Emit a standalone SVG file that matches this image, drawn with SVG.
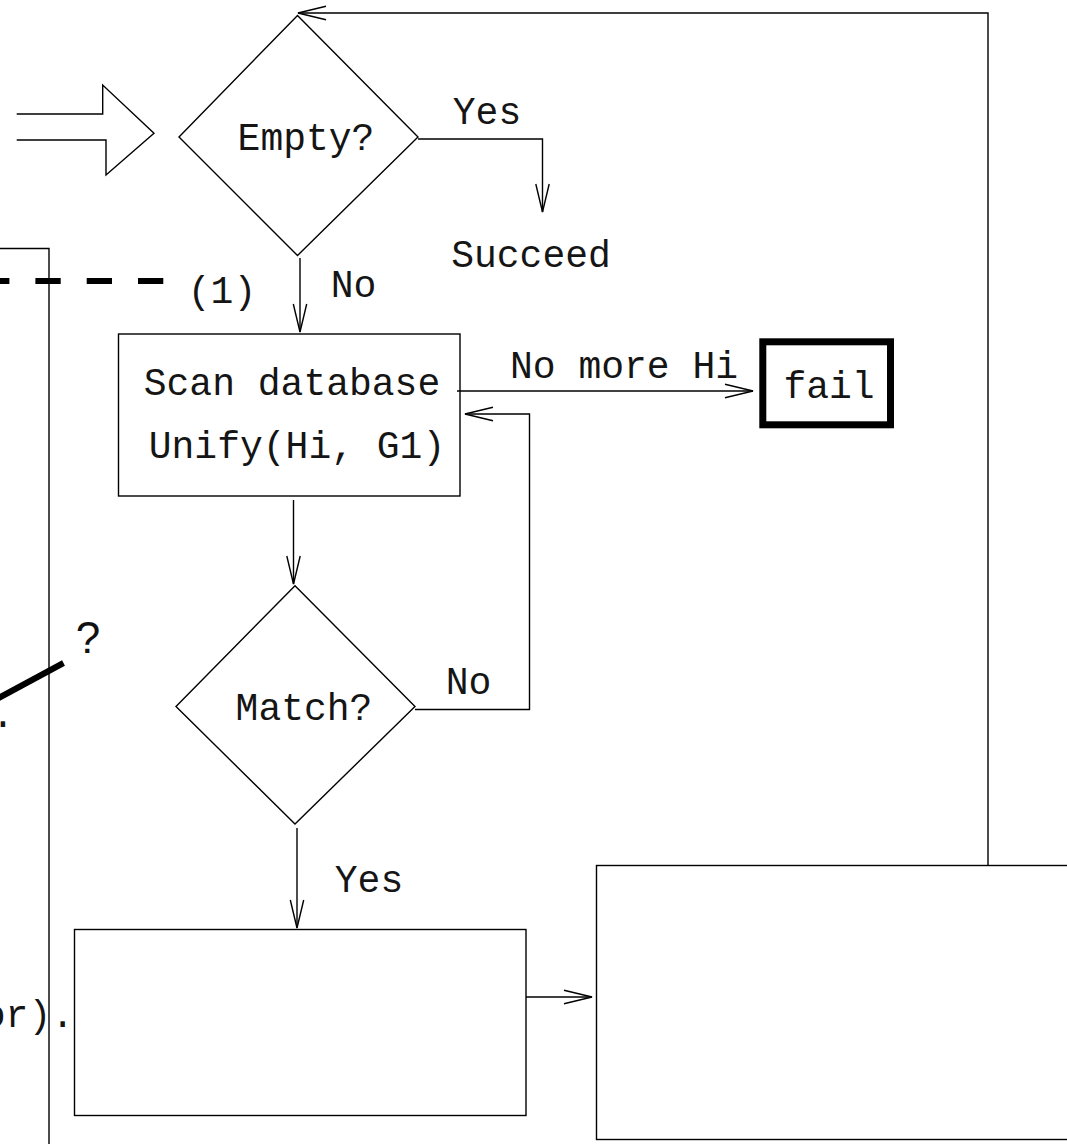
<svg xmlns="http://www.w3.org/2000/svg" width="1067" height="1144" viewBox="0 0 1067 1144">
  <defs>
    <style>
      .ln { fill: none; stroke: #000; stroke-width: 1.4; }
      .shape { fill: #fff; stroke: #000; stroke-width: 1.4; }
      .t { font-family: "Liberation Mono", "Courier New", monospace; font-size: 38px; fill: #151515; text-anchor: middle; }
    </style>
    <marker id="ah" markerUnits="userSpaceOnUse" markerWidth="32" markerHeight="18" refX="28" refY="7" orient="auto" overflow="visible">
      <path d="M0,0.3 L28,7 L0,13.7" fill="none" stroke="#000" stroke-width="1.4"/>
    </marker>
  </defs>

  <rect width="1067" height="1144" fill="#fff"/>

  <!-- left-hand frame and its annotations -->
  <g id="left-frame">
    <path class="ln" d="M0,248.5 L49,248.5 L49,1144"/>
    <path d="M163.3,281 L-20,281" fill="none" stroke="#000" stroke-width="6" stroke-dasharray="25.3 26"/>
    <path d="M-6,700.5 L63.5,663" fill="none" stroke="#000" stroke-width="6"/>
    <text x="88" y="653" style="font-family:'Liberation Sans',Arial,sans-serif;font-size:44px;fill:#111;text-anchor:middle">?</text>
    <text class="t" x="3" y="727">.</text>
    <text class="t" x="74" y="1027" style="text-anchor:end">or).</text>
  </g>

  <!-- hollow entry arrow -->
  <g id="entry-arrow">
    <path class="ln" d="M16.7,114 L102.7,114 L102.7,85 L154,133.3 L106,175 L106,140 L16.7,140"/>
  </g>

  <!-- decision: Empty? -->
  <g id="empty">
    <polygon class="shape" points="297.5,15.5 418,137 297.5,255.5 179,137"/>
    <text class="t" x="306" y="150">Empty?</text>
  </g>

  <g id="succeed">
    <text class="t" x="531" y="267">Succeed</text>
  </g>

  <!-- process: scan database -->
  <g id="scan">
    <rect class="shape" x="118.5" y="334" width="341.5" height="162"/>
    <text class="t" x="292" y="395">Scan database</text>
    <text class="t" x="297" y="458">Unify(Hi, G1)</text>
  </g>

  <!-- terminal: fail -->
  <g id="fail">
    <rect x="762.8" y="341.8" width="127.7" height="83" fill="#fff" stroke="#000" stroke-width="7"/>
    <text class="t" x="829" y="398">fail</text>
  </g>

  <!-- decision: Match? -->
  <g id="match">
    <polygon class="shape" points="295,585.7 415,706.5 295,824 176,706.5"/>
    <text class="t" x="304" y="720">Match?</text>
  </g>

  <!-- empty process boxes -->
  <g id="box-bottom-left">
    <rect class="shape" x="74.5" y="929.5" width="451.5" height="186"/>
  </g>
  <g id="box-bottom-right">
    <rect class="shape" x="596.5" y="865.5" width="480" height="274"/>
  </g>

  <!-- connectors -->
  <g id="connectors">
    <path class="ln" d="M418,139 L542.5,139 L542.5,212" marker-end="url(#ah)"/>
    <path class="ln" d="M300,258 L300,332" marker-end="url(#ah)"/>
    <path class="ln" d="M457,391 L753,391" marker-end="url(#ah)"/>
    <path class="ln" d="M293.5,500 L293.5,584" marker-end="url(#ah)"/>
    <path class="ln" d="M415,709.5 L529.5,709.5 L529.5,414 L465,414" marker-end="url(#ah)"/>
    <path class="ln" d="M297,828 L297,928" marker-end="url(#ah)"/>
    <path class="ln" d="M526,997 L592,997" marker-end="url(#ah)"/>
    <path class="ln" d="M988,865.5 L988,13 L298,13" marker-end="url(#ah)"/>
  </g>

  <!-- connector labels -->
  <g id="labels">
    <text class="t" x="487" y="124">Yes</text>
    <text class="t" x="222" y="303">(1)</text>
    <text class="t" x="353.5" y="297">No</text>
    <text class="t" x="624" y="378">No more Hi</text>
    <text class="t" x="468.5" y="694">No</text>
    <text class="t" x="369" y="892">Yes</text>
  </g>
</svg>
